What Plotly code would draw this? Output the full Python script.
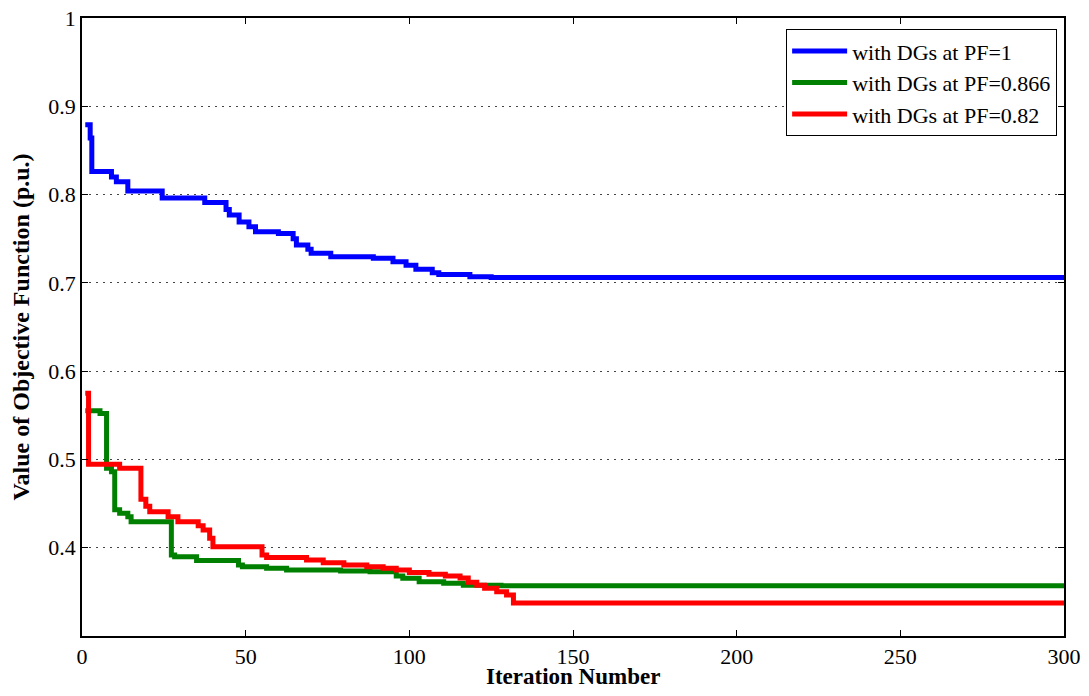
import plotly.graph_objects as go

# Step-wise convergence curves: (iteration, objective value) at each change
blue_it = [1, 2.5, 3, 9, 10.5, 14, 24.5, 37.5, 44, 45, 48, 51, 53, 60, 64.5, 65.5, 69, 70, 76, 89, 95, 99, 102, 107, 109, 118.5, 125, 300]
blue_v = [0.879, 0.864, 0.826, 0.820, 0.8145, 0.804, 0.796, 0.791, 0.783, 0.777, 0.769, 0.7635, 0.758, 0.756, 0.750, 0.743, 0.738, 0.7335, 0.7296, 0.7278, 0.724, 0.720, 0.7153, 0.7115, 0.7096, 0.7069, 0.706, 0.706]

green_it = [1, 5.5, 7.5, 9, 10, 11.5, 14, 15, 27.3, 28.3, 35, 47.8, 49, 56.4, 62.5, 79, 88, 96, 98, 103, 110.5, 116.5, 128, 300]
green_v = [0.555, 0.552, 0.490, 0.486, 0.443, 0.439, 0.435, 0.4295, 0.3917, 0.3898, 0.3855, 0.3804, 0.3785, 0.3767, 0.3747, 0.3736, 0.3728, 0.368, 0.3653, 0.3615, 0.3597, 0.3575, 0.3568, 0.3568]

red_it = [1, 2, 11.5, 18, 19.5, 20.7, 26.3, 29.3, 35.5, 37, 39, 40, 55, 56.4, 68.6, 73.7, 80, 87, 92, 96, 100, 106, 111, 115.5, 118, 120.6, 123, 126.7, 129.7, 131.8, 300]
red_v = [0.575, 0.4945, 0.490, 0.455, 0.447, 0.4408, 0.435, 0.4295, 0.425, 0.420, 0.4106, 0.401, 0.3917, 0.389, 0.386, 0.383, 0.3804, 0.3785, 0.3767, 0.3747, 0.372, 0.370, 0.368, 0.3657, 0.361, 0.3575, 0.354, 0.350, 0.3464, 0.3375, 0.3375]

series = [
    ("with DGs at PF=1", blue_it, blue_v, "#0000ff"),
    ("with DGs at PF=0.866", green_it, green_v, "#008000"),
    ("with DGs at PF=0.82", red_it, red_v, "#ff0000"),
]

x_ticks = [0, 50, 100, 150, 200, 250, 300]
y_ticks = [0.4, 0.5, 0.6, 0.7, 0.8, 0.9, 1.0]
y_labels = ["0.4", "0.5", "0.6", "0.7", "0.8", "0.9", "1"]
x_title = "Iteration Number"
y_title = "Value of Objective Function (p.u.)"

fig = go.Figure()
for name, xs, ys, col in series:
    fig.add_trace(go.Scatter(x=xs, y=ys, mode="lines", name=name,
                             line=dict(color=col, width=5, shape="hv")))

font_family = "Liberation Serif"
# page body has an 8px default margin, so the figure is made 16px smaller
fig.update_layout(
    width=1073, height=680,
    margin=dict(l=74, r=17, t=10, b=52, autoexpand=False),
    paper_bgcolor="white", plot_bgcolor="white",
    font=dict(family=font_family, color="black", size=22),
    showlegend=True,
    legend=dict(x=0.993, y=0.982, xanchor="right", yanchor="top",
                bgcolor="white", bordercolor="black", borderwidth=1,
                font=dict(family="Times New Roman", size=22, color="black"),
                itemwidth=55, tracegroupgap=0),
    xaxis=dict(range=[0, 300], tickvals=x_ticks, ticks="inside", ticklen=6,
               tickcolor="black", showline=True, linecolor="black", linewidth=1.5,
               mirror="ticks", showgrid=False, zeroline=False, automargin=False,
               ticklabeloverflow="allow",
               tickfont=dict(family=font_family, size=22)),
    yaxis=dict(range=[0.3, 1.0], tickvals=y_ticks, ticktext=y_labels, ticks="inside",
               ticklen=6, tickcolor="black", showline=True, linecolor="black",
               linewidth=1.5, mirror="ticks", showgrid=True, gridcolor="#444444",
               griddash="2px,5px", gridwidth=1, zeroline=False, automargin=False,
               ticklabeloverflow="allow",
               tickfont=dict(family=font_family, size=22),
               title=dict(text="<b>" + y_title + "</b>", font=dict(family=font_family, size=24), standoff=14)),
)
fig.add_annotation(text="<b>" + x_title + "</b>", xref="paper", yref="paper",
                   x=0.5, y=0, xanchor="center", yanchor="middle", yshift=-40,
                   showarrow=False, font=dict(family=font_family, size=23, color="black"))

fig.write_html("out.html")
